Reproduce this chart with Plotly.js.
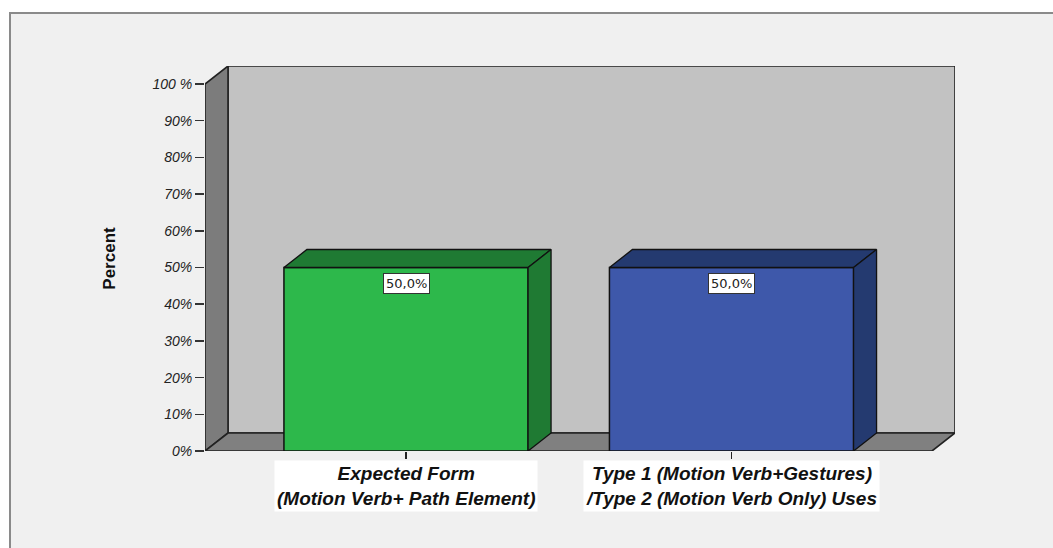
<!DOCTYPE html>
<html>
<head>
<meta charset="utf-8">
<script src="https://cdn.plot.ly/plotly-3.0.1.min.js"></script>
<style>
  html, body { margin: 0; padding: 0; background: #ffffff; }
  #chart { width: 1053px; height: 548px; }
</style>
</head>
<body>
<div id="chart"></div>
<script>
// ---- data ----
const categories = [
  "Expected Form<br>(Motion Verb+ Path Element)",
  "Type 1 (Motion Verb+Gestures)<br>/Type 2 (Motion Verb Only) Uses"
];
const percents = [50.0, 50.0];
const yTickValues = [0, 10, 20, 30, 40, 50, 60, 70, 80, 90, 100];
const yTickLabels = ["0%", "10%", "20%", "30%", "40%", "50%", "60%", "70%", "80%", "90%", "100 %"];
const frontColors = ["#2db84b", "#3e58aa"];
const darkColors  = ["#1f7a33", "#243a70"];

// ---- geometry (style) ----
const W = 1053, H = 548;
const PL = 205, PR = 955, PT = 66, PB = 451;   // plot area in pixels
const pxPerY = (451 - 84) / 100;                 // pixels per percent
const pxPerX = 325.5;                            // pixels per category step
const xMin = -(406 - PL) / pxPerX;
const xMax = xMin + (PR - PL) / pxPerX;
const yMax = (PB - PT) / pxPerY;
const DX = 23 / pxPerX;                          // depth offset (x, data units)
const DY = 18 / pxPerY;                          // depth offset (y, data units)
const BAR_W = 0.75;

const xs = categories.map((c, i) => i);

// front faces through a bar trace
const traces = [{
  type: "bar",
  x: xs,
  y: percents,
  width: BAR_W,
  marker: { color: frontColors, line: { color: "#111111", width: 1.5 } },
  hoverinfo: "skip",
  showlegend: false
}];

// top and side faces derived from the values
percents.forEach((v, i) => {
  const x0 = i - BAR_W / 2, x1 = i + BAR_W / 2;
  traces.push({
    type: "scatter", mode: "lines", fill: "toself",
    x: [x0, x1, x1 + DX, x0 + DX, x0],
    y: [v, v, v + DY, v + DY, v],
    fillcolor: darkColors[i],
    line: { color: "#111111", width: 1.3 },
    hoverinfo: "skip", showlegend: false
  });
  traces.push({
    type: "scatter", mode: "lines", fill: "toself",
    x: [x1, x1 + DX, x1 + DX, x1, x1],
    y: [0, DY, v + DY, v, 0],
    fillcolor: darkColors[i],
    line: { color: "#111111", width: 1.3 },
    hoverinfo: "skip", showlegend: false
  });
});

// frame in paper coordinates
const px2paperX = p => (p - PL) / (PR - PL);
const px2paperY = p => (PB - p) / (PB - PT);

const shapes = [
  { type: "rect", xref: "paper", yref: "paper", layer: "below",
    x0: px2paperX(10), x1: px2paperX(1070), y0: px2paperY(570), y1: px2paperY(13),
    fillcolor: "#f0f0f0", line: { color: "#8a8a8a", width: 2 } },
  // back wall
  { type: "rect", xref: "x", yref: "y", layer: "below",
    x0: xMin + DX, x1: xMax, y0: DY, y1: 100 + DY,
    fillcolor: "#c2c2c2", line: { color: "#222222", width: 1.6 } },
  // left wall
  { type: "path", xref: "x", yref: "y", layer: "below",
    path: `M ${xMin} 0 L ${xMin} 100 L ${xMin + DX} ${100 + DY} L ${xMin + DX} ${DY} Z`,
    fillcolor: "#7c7c7c", line: { color: "#222222", width: 1.6 } },
  // floor
  { type: "path", xref: "x", yref: "y", layer: "below",
    path: `M ${xMin} 0 L ${xMin + DX} ${DY} L ${xMax} ${DY} L ${xMax - DX} 0 Z`,
    fillcolor: "#808080", line: { color: "#222222", width: 1.6 } }
];

const annotations = [];
percents.forEach((v, i) => {
  annotations.push({
    x: i, y: v, xref: "x", yref: "y", yanchor: "top", yshift: -5,
    text: v.toFixed(1).replace(".", ",") + "%",
    showarrow: false,
    bgcolor: "#ffffff", bordercolor: "#333333", borderwidth: 1, borderpad: 2,
    font: { family: "DejaVu Sans, sans-serif", size: 13, color: "#222222" }
  });
});
categories.forEach((c, i) => {
  annotations.push({
    x: i, y: 0, xref: "x", yref: "y", yanchor: "top", yshift: -9,
    text: "<b><i>" + c + "</i></b>",
    showarrow: false, align: "center",
    bgcolor: "#ffffff", borderpad: 2,
    font: { family: "Liberation Sans, Arial, sans-serif", size: 19, color: "#111111" }
  });
});

const layout = {
  width: W, height: H,
  margin: { l: PL, r: W - PR, t: PT, b: H - PB, pad: 0 },
  paper_bgcolor: "#ffffff",
  plot_bgcolor: "rgba(0,0,0,0)",
  showlegend: false,
  xaxis: {
    range: [xMin, xMax], showgrid: false, zeroline: false, showline: false,
    tickvals: xs, ticktext: xs.map(() => ""), ticks: "outside", ticklen: 7,
    tickcolor: "#222222", tickwidth: 1.5, fixedrange: true
  },
  yaxis: {
    range: [0, yMax], showgrid: false, zeroline: false, showline: false,
    tickvals: yTickValues, ticktext: yTickLabels, ticks: "outside", ticklen: 9,
    tickcolor: "#333333", tickwidth: 1.5,
    tickfont: { family: "Liberation Sans, Arial, sans-serif", size: 14, color: "#222222", style: "italic" },
    title: { text: "<b>Percent</b>", standoff: 32,
      font: { family: "Liberation Sans Narrow, Arial Narrow, Liberation Sans, sans-serif", size: 17, color: "#111111" } },
    fixedrange: true
  },
  shapes: shapes,
  annotations: annotations
};

Plotly.newPlot("chart", traces, layout, { displayModeBar: false, staticPlot: true });
</script>
</body>
</html>
